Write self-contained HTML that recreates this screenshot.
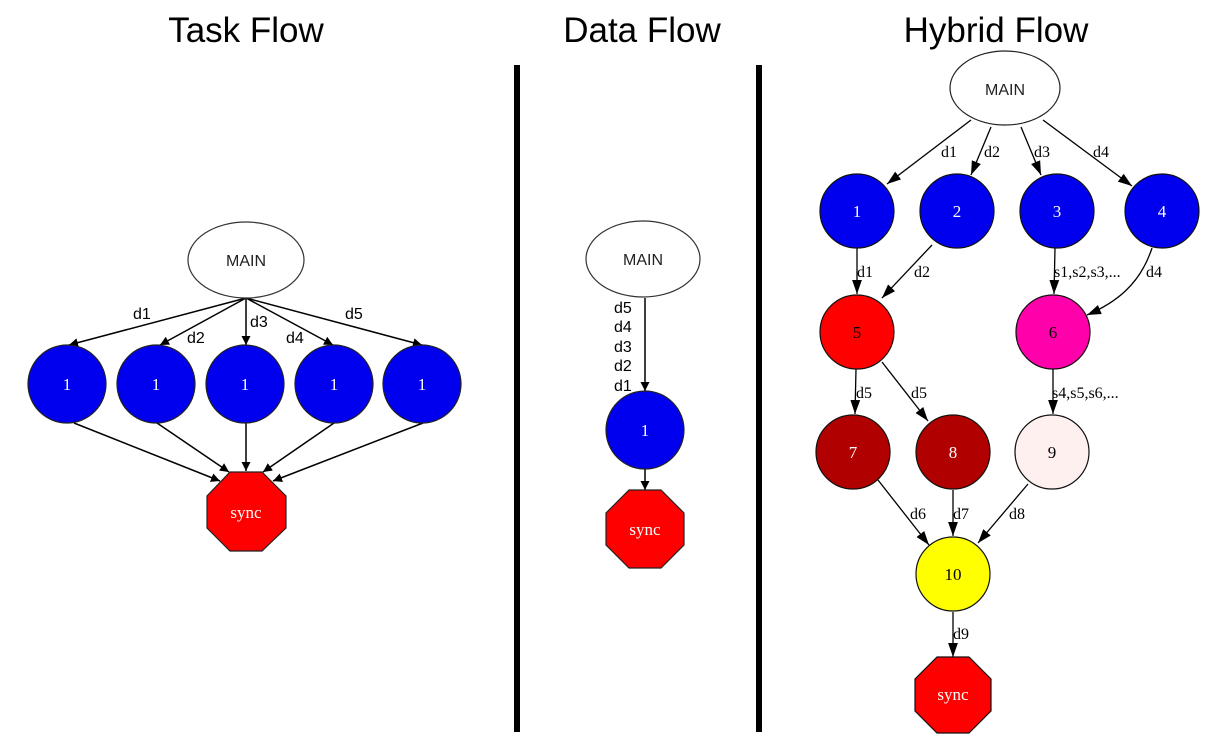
<!DOCTYPE html>
<html><head><meta charset="utf-8"><style>
html,body{margin:0;padding:0;background:#fff;}
svg{display:block;}
.t{font-family:"Liberation Sans",sans-serif;font-size:35px;fill:#000;text-anchor:middle;}
.m{font-family:"Liberation Sans",sans-serif;font-size:16px;fill:#222;text-anchor:middle;}
.s{font-family:"Liberation Sans",sans-serif;font-size:16px;fill:#000;}
.n{font-family:"Liberation Serif",serif;font-size:17px;text-anchor:middle;}
.e{font-family:"Liberation Serif",serif;font-size:16px;fill:#000;}
</style></head><body>
<svg width="1217" height="749" viewBox="0 0 1217 749" xmlns="http://www.w3.org/2000/svg">
<defs>
<marker id="a" viewBox="0 0 10 10" refX="10" refY="5" markerWidth="9" markerHeight="9" markerUnits="userSpaceOnUse" orient="auto"><path d="M0,0L10,5L0,10z" fill="#000"/></marker>
<marker id="b" viewBox="0 0 10 10" refX="10" refY="5" markerWidth="14" markerHeight="14" markerUnits="userSpaceOnUse" orient="auto"><path d="M0,1.5L10,5L0,8.5z" fill="#000"/></marker>
</defs>
<text class="t" x="246" y="42">Task Flow</text>
<text class="t" x="642" y="42">Data Flow</text>
<text class="t" x="996" y="42">Hybrid Flow</text>
<rect x="514" y="65" width="6" height="667" fill="#000"/>
<rect x="756" y="65" width="6" height="667" fill="#000"/>

<g stroke="#000" stroke-width="1.5" fill="none" marker-end="url(#a)">
<line x1="246" y1="298" x2="69" y2="345"/>
<line x1="246" y1="298" x2="160" y2="345"/>
<line x1="246" y1="298" x2="246" y2="345"/>
<line x1="246" y1="298" x2="333" y2="345"/>
<line x1="246" y1="298" x2="422" y2="345"/>
<line x1="74" y1="423" x2="220" y2="481"/>
<line x1="157" y1="423" x2="229" y2="472"/>
<line x1="246" y1="423" x2="246" y2="471"/>
<line x1="334" y1="423" x2="263" y2="472"/>
<line x1="423" y1="423" x2="273" y2="481"/>
</g>
<ellipse cx="246" cy="260" rx="58" ry="38" fill="#fff" stroke="#333" stroke-width="1.2"/>
<text class="m" x="246" y="266">MAIN</text>
<text class="s" x="133" y="319">d1</text><text class="s" x="187" y="343">d2</text>
<text class="s" x="250" y="327">d3</text><text class="s" x="286" y="343">d4</text>
<text class="s" x="345" y="319">d5</text>
<g fill="#0000ee" stroke="#222" stroke-width="1.2">
<circle cx="67" cy="384" r="39"/><circle cx="156" cy="384" r="39"/><circle cx="245" cy="384" r="39"/><circle cx="334" cy="384" r="39"/><circle cx="422" cy="384" r="39"/>
</g>
<g class="n" fill="#fff"><text x="67" y="390">1</text><text x="156" y="390">1</text><text x="245" y="390">1</text><text x="334" y="390">1</text><text x="422" y="390">1</text></g>
<polygon points="230,472 262,472 286,496 286,528 262,551 230,551 207,528 207,496" fill="#f00" stroke="#222" stroke-width="1.2"/>
<text class="n" x="246" y="518" fill="#fff">sync</text>

<g stroke="#000" stroke-width="1.5" marker-end="url(#a)">
<line x1="645" y1="298" x2="645" y2="391"/>
<line x1="645" y1="469" x2="645" y2="490"/>
</g>
<ellipse cx="643" cy="259" rx="57" ry="38" fill="#fff" stroke="#333" stroke-width="1.2"/>
<text class="m" x="643" y="265">MAIN</text>
<text class="s" x="614" y="313">d5</text><text class="s" x="614" y="332">d4</text><text class="s" x="614" y="352">d3</text><text class="s" x="614" y="371">d2</text><text class="s" x="614" y="391">d1</text>
<circle cx="645" cy="430" r="39" fill="#0000ee" stroke="#222" stroke-width="1.2"/>
<text class="n" x="645" y="436" fill="#fff">1</text>
<polygon points="629,490 661,490 684,513 684,545 661,568 629,568 606,545 606,513" fill="#f00" stroke="#222" stroke-width="1.2"/>
<text class="n" x="645" y="535" fill="#fff">sync</text>

<g stroke="#000" stroke-width="1.3" fill="none" marker-end="url(#b)">
<line x1="971" y1="120" x2="887" y2="184"/>
<line x1="991" y1="127" x2="971" y2="175"/>
<line x1="1021" y1="127" x2="1041" y2="175"/>
<line x1="1043" y1="120" x2="1132" y2="186"/>
<line x1="857" y1="248" x2="857" y2="294"/>
<line x1="932" y1="245" x2="882" y2="298"/>
<line x1="1055" y1="248" x2="1054" y2="294"/>
<path d="M1152,248 C1140,285 1115,303 1087,315"/>
<line x1="856" y1="369" x2="855" y2="414"/>
<line x1="882" y1="362" x2="928" y2="421"/>
<line x1="1053" y1="369" x2="1053" y2="414"/>
<line x1="878" y1="480" x2="929" y2="545"/>
<line x1="953" y1="490" x2="953" y2="536"/>
<line x1="1028" y1="484" x2="978" y2="543"/>
<line x1="953" y1="612" x2="953" y2="657"/>
</g>
<ellipse cx="1005" cy="88" rx="55" ry="37" fill="#fff" stroke="#222" stroke-width="1.2"/>
<text class="m" x="1005" y="95">MAIN</text>
<g stroke="#111" stroke-width="1.2">
<circle cx="857" cy="211" r="37" fill="#0000ee"/>
<circle cx="957" cy="211" r="37" fill="#0000ee"/>
<circle cx="1057" cy="211" r="37" fill="#0000ee"/>
<circle cx="1162" cy="211" r="37" fill="#0000ee"/>
<circle cx="857" cy="332" r="37" fill="#ff0000"/>
<circle cx="1053" cy="332" r="37" fill="#ff00aa"/>
<circle cx="853" cy="452" r="37" fill="#b00000"/>
<circle cx="953" cy="452" r="37" fill="#b00000"/>
<circle cx="1052" cy="452" r="37" fill="#fff0f0"/>
<circle cx="953" cy="574" r="37" fill="#ffff00"/>
<polygon points="937,657 969,657 991,679 991,711 969,733 937,733 915,711 915,679" fill="#f00"/>
</g>
<g class="n">
<text x="857" y="217" fill="#fff">1</text><text x="957" y="217" fill="#fff">2</text><text x="1057" y="217" fill="#fff">3</text><text x="1162" y="217" fill="#fff">4</text>
<text x="857" y="338" fill="#000">5</text><text x="1053" y="338" fill="#000">6</text>
<text x="853" y="458" fill="#fff">7</text><text x="953" y="458" fill="#fff">8</text><text x="1052" y="458" fill="#000">9</text>
<text x="953" y="580" fill="#000">10</text>
<text x="953" y="700" fill="#fff">sync</text>
</g>
<g class="e">
<text x="941" y="157">d1</text><text x="984" y="157">d2</text><text x="1034" y="157">d3</text><text x="1093" y="157">d4</text>
<text x="857" y="277">d1</text><text x="914" y="277">d2</text><text x="1054" y="277">s1,s2,s3,...</text><text x="1146" y="277">d4</text>
<text x="856" y="398">d5</text><text x="911" y="398">d5</text><text x="1052" y="398">s4,s5,s6,...</text>
<text x="910" y="519">d6</text><text x="953" y="519">d7</text><text x="1009" y="519">d8</text>
<text x="953" y="639">d9</text>
</g>
</svg>
</body></html>
